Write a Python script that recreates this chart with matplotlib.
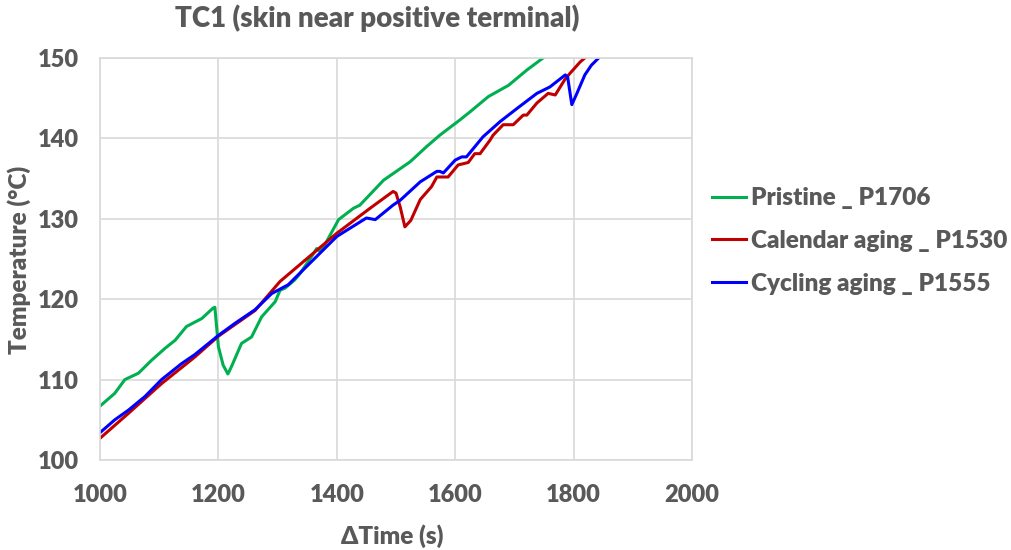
"""
TC1 skin temperature near the positive terminal for three cells.
"""

import matplotlib.pyplot as plt
from matplotlib.lines import Line2D

# Pristine cell P1706
pristine_t = [1000, 1025, 1042, 1065, 1087, 1110, 1127, 1146, 1172, 1191, 1194,
              1200, 1208, 1216, 1222, 1239, 1256, 1273, 1296, 1304, 1313, 1329,
              1338, 1360, 1366, 1372, 1380, 1403, 1428, 1439, 1479, 1524, 1552,
              1574, 1608, 1625, 1656, 1690, 1721, 1752, 1760]
pristine_T = [106.7, 108.3, 110.0, 110.8, 112.4, 113.9, 114.9, 116.6, 117.6, 118.9, 119.0,
              114.1, 111.8, 110.7, 111.6, 114.5, 115.3, 117.8, 119.7, 121.1, 121.4, 122.4,
              123.2, 125.6, 126.3, 125.9, 126.8, 129.9, 131.3, 131.7, 134.8, 137.1, 139.0,
              140.4, 142.3, 143.3, 145.2, 146.6, 148.5, 150.2, 150.8]

# Calendar aged cell P1530
calendar_t = [1000, 1048, 1104, 1160, 1200, 1262, 1304, 1400, 1456, 1495, 1500,
              1507, 1515, 1525, 1541, 1560, 1569, 1588, 1605, 1622, 1633, 1642,
              1659, 1664, 1681, 1698, 1715, 1721, 1738, 1757, 1769, 1785, 1794,
              1811, 1822, 1835]
calendar_T = [102.7, 105.8, 109.5, 112.8, 115.4, 118.6, 122.2, 128.2, 131.3, 133.4, 133.2,
              131.5, 129.0, 129.8, 132.4, 134.0, 135.2, 135.2, 136.7, 137.0, 138.1, 138.1,
              139.8, 140.4, 141.7, 141.7, 142.9, 142.9, 144.4, 145.6, 145.4, 147.3, 148.1,
              149.5, 150.2, 151.0]

# Cycling aged cell P1555
cycling_t = [1000, 1025, 1048, 1076, 1104, 1138, 1160, 1200, 1228, 1262, 1290,
             1318, 1400, 1450, 1465, 1495, 1507, 1541, 1569, 1574, 1580, 1600,
             1611, 1619, 1647, 1676, 1704, 1738, 1760, 1786, 1790, 1797, 1805,
             1819, 1830, 1845]
cycling_T = [103.4, 105.0, 106.2, 107.9, 110.0, 112.0, 113.1, 115.5, 117.0, 118.7, 120.7,
             121.8, 127.8, 130.1, 129.9, 131.7, 132.3, 134.6, 135.9, 135.9, 135.7, 137.3,
             137.7, 137.7, 140.2, 142.1, 143.7, 145.6, 146.4, 147.9, 147.6, 144.2, 145.5,
             147.9, 149.1, 150.2]

labels = ['Pristine _ P1706', 'Calendar aging _ P1530', 'Cycling aging _ P1555']
colors = ['#00b050', '#c00000', '#0000ff']

TEXT = '#595959'
GRID = '#d9d9d9'
FONT = 'Lato'
WEIGHT = 'heavy'

W, H = 1012, 550
fig = plt.figure(figsize=(W / 100, H / 100), dpi=100)
ax = fig.add_axes([100 / W, 1 - 460 / H, 592 / W, 402 / H])

series = [(pristine_t, pristine_T), (calendar_t, calendar_T), (cycling_t, cycling_T)]
for (t, T), c, lab in zip(series, colors, labels):
    ax.plot(t, T, color=c, lw=2.2, label=lab, solid_joinstyle='round',
            solid_capstyle='round')

ax.set_xlim(1000, 2000)
ax.set_ylim(100, 150)
ax.set_xticks(range(1000, 2001, 200))
ax.set_yticks(range(100, 151, 10))
ax.grid(True, color=GRID, lw=1.2)
ax.set_axisbelow(True)
for s in ax.spines.values():
    s.set_color(GRID)
    s.set_linewidth(1.2)
ax.tick_params(length=0, labelsize=17, labelcolor=TEXT)
ax.tick_params(axis='x', pad=17)
ax.tick_params(axis='y', pad=15)
for lbl in ax.get_xticklabels() + ax.get_yticklabels():
    lbl.set_fontfamily(FONT)
    lbl.set_fontweight(WEIGHT)

fig.text(392 / W, 1 - 536 / H, '\u0394Time (s)', ha='center', va='center',
         fontsize=17.5, fontweight=WEIGHT, color=TEXT, family=FONT)
fig.text(19 / W, 1 - 260 / H, 'Temperature (\u00b0C)', ha='center', va='center',
         rotation=90, fontsize=17.5, fontweight=WEIGHT, color=TEXT, family=FONT)
fig.text(377 / W, 1 - 18 / H, 'TC1 (skin near positive terminal)', ha='center',
         va='center', fontsize=20, fontweight=WEIGHT, color=TEXT, family=FONT)

handles = [Line2D([0], [0], color=c, lw=2.2) for c in colors]
leg = fig.legend(handles, labels, loc='center left', bbox_to_anchor=(712 / W, 1 - 241 / H),
                 frameon=False, borderpad=0, borderaxespad=0, handlelength=1.4,
                 handletextpad=0.2, labelspacing=0.85,
                 prop={'family': FONT, 'weight': WEIGHT, 'size': 17.5})
for txt in leg.get_texts():
    txt.set_color(TEXT)

fig.savefig('out.png', dpi=100)
